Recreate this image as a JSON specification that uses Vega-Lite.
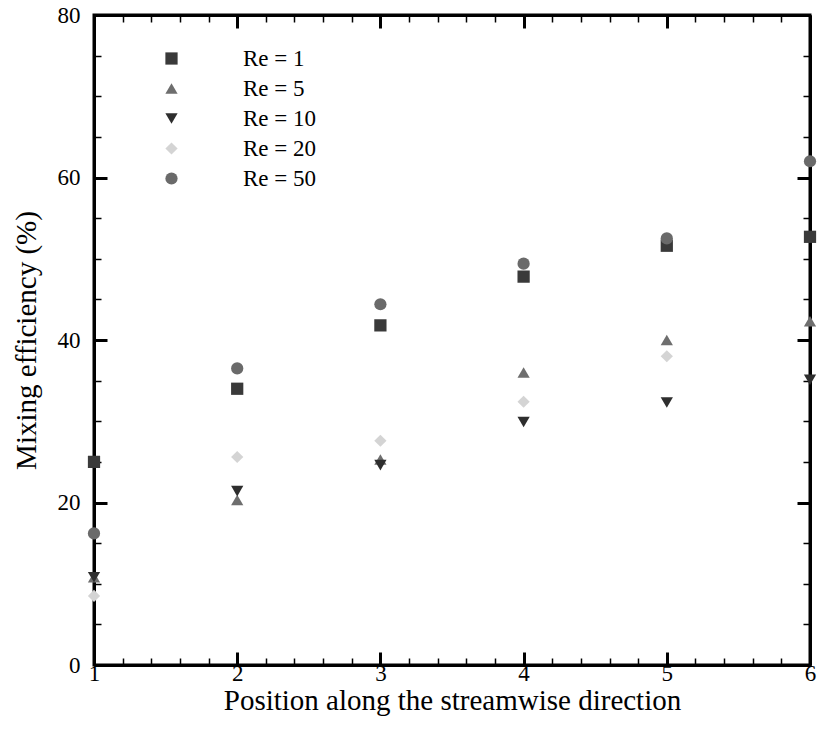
{
  "$schema": "https://vega.github.io/schema/vega-lite/v6.json",
  "width": 716,
  "height": 650,
  "autosize": {"type": "none"},
  "padding": {"left": 94, "top": 15, "right": 13, "bottom": 66},
  "background": "white",
  "config": {
    "view": {"stroke": "black", "strokeWidth": 3},
    "font": "Liberation Serif",
    "axis": {"domainColor": "black", "domainWidth": 3, "tickColor": "black", "grid": false, "labelFont": "Liberation Serif", "labelFontSize": 23, "titleFont": "Liberation Serif", "titleFontSize": 29, "labelColor": "black", "titleColor": "black", "titleFontWeight": "normal"}
  },
  "data": {"values": [
    {"pos": 1, "eff": 25.0, "series": "Re = 1"},
    {"pos": 2, "eff": 34.0, "series": "Re = 1"},
    {"pos": 3, "eff": 41.8, "series": "Re = 1"},
    {"pos": 4, "eff": 47.8, "series": "Re = 1"},
    {"pos": 5, "eff": 51.6, "series": "Re = 1"},
    {"pos": 6, "eff": 52.7, "series": "Re = 1"},
    {"pos": 1, "eff": 10.8, "series": "Re = 5"},
    {"pos": 2, "eff": 20.3, "series": "Re = 5"},
    {"pos": 3, "eff": 25.3, "series": "Re = 5"},
    {"pos": 4, "eff": 36.0, "series": "Re = 5"},
    {"pos": 5, "eff": 40.0, "series": "Re = 5"},
    {"pos": 6, "eff": 42.3, "series": "Re = 5"},
    {"pos": 1, "eff": 10.8, "series": "Re = 10"},
    {"pos": 2, "eff": 21.4, "series": "Re = 10"},
    {"pos": 3, "eff": 24.6, "series": "Re = 10"},
    {"pos": 4, "eff": 29.9, "series": "Re = 10"},
    {"pos": 5, "eff": 32.3, "series": "Re = 10"},
    {"pos": 6, "eff": 35.1, "series": "Re = 10"},
    {"pos": 1, "eff": 8.5, "series": "Re = 20"},
    {"pos": 2, "eff": 25.6, "series": "Re = 20"},
    {"pos": 3, "eff": 27.6, "series": "Re = 20"},
    {"pos": 4, "eff": 32.4, "series": "Re = 20"},
    {"pos": 5, "eff": 38.0, "series": "Re = 20"},
    {"pos": 1, "eff": 16.2, "series": "Re = 50"},
    {"pos": 2, "eff": 36.5, "series": "Re = 50"},
    {"pos": 3, "eff": 44.4, "series": "Re = 50"},
    {"pos": 4, "eff": 49.4, "series": "Re = 50"},
    {"pos": 5, "eff": 52.5, "series": "Re = 50"},
    {"pos": 6, "eff": 62.0, "series": "Re = 50"}
  ]},
  "layer": [
    {
      "mark": {"type": "point", "filled": true, "size": 150, "strokeWidth": 1, "opacity": 1},
      "encoding": {
        "x": {"field": "pos", "type": "quantitative", "scale": {"domain": [1, 6], "nice": false, "zero": false},
          "axis": {"orient": "bottom", "values": [1, 2, 3, 4, 5, 6], "tickSize": -13, "tickWidth": 3, "labelFontSize": 23, "labelPadding": 10, "title": "Position along the streamwise direction", "titleFontSize": 29, "titlePadding": 1, "labelFlush": false}},
        "y": {"field": "eff", "type": "quantitative", "scale": {"domain": [0, 80], "nice": false},
          "axis": {"orient": "left", "values": [0, 20, 40, 60, 80], "tickSize": -13, "tickWidth": 3, "labelFontSize": 23, "labelPadding": 27, "title": "Mixing efficiency (%)", "titleFontSize": 29, "titlePadding": 16, "labelFlush": false}},
        "shape": {"field": "series", "type": "nominal",
          "scale": {"domain": ["Re = 1", "Re = 5", "Re = 10", "Re = 20", "Re = 50"], "range": ["square", "triangle-up", "triangle-down", "diamond", "circle"]},
          "legend": {"title": null, "orient": "none", "legendX": 66, "legendY": 32, "labelFontSize": 23, "labelFont": "Liberation Serif", "labelColor": "black", "labelOffset": 60, "rowPadding": 6, "symbolSize": 150, "padding": 0}},
        "color": {"field": "series", "type": "nominal",
          "scale": {"domain": ["Re = 1", "Re = 5", "Re = 10", "Re = 20", "Re = 50"], "range": ["#3a3a3a", "#6e6e6e", "#2e2e2e", "#d4d4d4", "#6a6a6a"]},
          "legend": {"title": null, "orient": "none", "legendX": 66, "legendY": 32, "labelFontSize": 23, "labelFont": "Liberation Serif", "labelColor": "black", "labelOffset": 60, "rowPadding": 6, "symbolSize": 150, "padding": 0}}
      }
    },
    {
      "mark": {"type": "point", "opacity": 0},
      "encoding": {
        "x": {"field": "pos", "type": "quantitative", "scale": {"domain": [1, 6], "nice": false, "zero": false},
          "axis": {"orient": "bottom", "values": [1.2, 1.4, 1.6, 1.8, 2.2, 2.4, 2.6, 2.8, 3.2, 3.4, 3.6, 3.8, 4.2, 4.4, 4.6, 4.8, 5.2, 5.4, 5.6, 5.8], "tickSize": -7, "tickWidth": 1.5, "labels": false, "title": null, "domain": false}},
        "y": {"field": "eff", "type": "quantitative", "scale": {"domain": [0, 80], "nice": false},
          "axis": {"orient": "left", "values": [5, 10, 15, 25, 30, 35, 45, 50, 55, 65, 70, 75], "tickSize": -7, "tickWidth": 1.5, "labels": false, "title": null, "domain": false}}
      }
    },
    {
      "mark": {"type": "point", "opacity": 0},
      "encoding": {
        "x": {"field": "pos", "type": "quantitative", "scale": {"domain": [1, 6], "nice": false, "zero": false},
          "axis": {"orient": "top", "values": [1, 2, 3, 4, 5, 6], "tickSize": -13, "tickWidth": 3, "labels": false, "title": null}},
        "y": {"field": "eff", "type": "quantitative", "scale": {"domain": [0, 80], "nice": false},
          "axis": {"orient": "right", "values": [0, 20, 40, 60, 80], "tickSize": -13, "tickWidth": 3, "labels": false, "title": null}}
      }
    },
    {
      "mark": {"type": "point", "opacity": 0},
      "encoding": {
        "x": {"field": "pos", "type": "quantitative", "scale": {"domain": [1, 6], "nice": false, "zero": false},
          "axis": {"orient": "top", "values": [1.2, 1.4, 1.6, 1.8, 2.2, 2.4, 2.6, 2.8, 3.2, 3.4, 3.6, 3.8, 4.2, 4.4, 4.6, 4.8, 5.2, 5.4, 5.6, 5.8], "tickSize": -7, "tickWidth": 1.5, "labels": false, "title": null, "domain": false}},
        "y": {"field": "eff", "type": "quantitative", "scale": {"domain": [0, 80], "nice": false},
          "axis": {"orient": "right", "values": [5, 10, 15, 25, 30, 35, 45, 50, 55, 65, 70, 75], "tickSize": -7, "tickWidth": 1.5, "labels": false, "title": null, "domain": false}}
      }
    }
  ],
  "resolve": {"axis": {"x": "independent", "y": "independent"}}
}
